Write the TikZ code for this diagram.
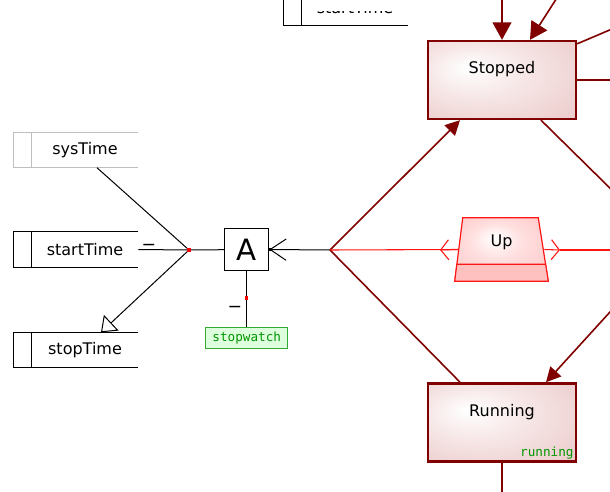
\documentclass[tikz,border=0pt]{standalone}
\usepackage{fontspec}
\setmainfont{DejaVu Sans}
\setmonofont{DejaVu Sans Mono}
\usetikzlibrary{positioning,arrows.meta}

\definecolor{statered}{RGB}{128,0,0}
\definecolor{statepink}{RGB}{232,190,190}
\definecolor{flowred}{RGB}{255,20,20}
\definecolor{uppink}{RGB}{255,192,192}
\definecolor{tagfill}{RGB}{222,255,222}
\definecolor{taggreen}{RGB}{0,150,0}
\definecolor{attrgray}{RGB}{190,190,190}

\pgfdeclareradialshading{statefill}{\pgfpoint{-12bp}{8bp}}{color(0bp)=(white); color(18bp)=(statepink!40!white); color(42bp)=(statepink!85!white); color(60bp)=(statepink)}
\pgfdeclareradialshading{upfill}{\pgfpoint{-4bp}{10bp}}{color(0bp)=(white); color(14bp)=(uppink!50!white); color(40bp)=(uppink)}

\begin{document}
\begin{tikzpicture}[
  x=0.75pt, y=-0.75pt,
  attr/.style={
    minimum width=79.5pt,
    minimum height=26.25pt,
    inner sep=0pt,
    font=\fontsize{12}{14}\selectfont
  },
  op/.style={
    draw,
    line width=0.75pt,
    minimum width=33pt,
    minimum height=31.5pt,
    inner sep=0pt,
    font=\fontsize{22}{24}\selectfont
  },
  tag/.style={
    draw=taggreen!80,
    fill=tagfill,
    text=taggreen,
    line width=0.75pt,
    minimum width=61.5pt,
    minimum height=15.75pt,
    inner sep=0pt,
    font=\ttfamily\fontsize{9.5}{11}\selectfont
  },
  state/.style={
    draw=statered,
    line width=1.8pt,
    shading=statefill,
    minimum width=111pt,
    minimum height=58.5pt,
    label={[yshift=8pt, font=\fontsize{12}{14}\selectfont]center:#1}
  },
  upbox/.style={
    minimum width=69.75pt,
    minimum height=47.25pt,
    inner sep=0pt,
    label={[yshift=5.6pt, font=\fontsize{12}{14}\selectfont]center:#1}
  },
  dot/.style={fill=red, inner sep=0pt, minimum size=2.5pt},
  blackdot/.style={fill=black, inner sep=0pt, minimum size=2.5pt},
  minus/.style={font=\fontsize{13}{14}\selectfont, inner sep=1pt},
  link/.style={draw, line width=0.75pt},
  trans/.style={draw=statered, line width=1.2pt},
  flow/.style={draw=flowred, line width=0.8pt}
]
\useasboundingbox (0,0) rectangle (610,492);
\clip (0,0) rectangle (610,492);

% attributes
\node[attr] (startTime) at (85,249.5) {startTime};
\node[attr, above=48pt of startTime] (sysTime) {sysTime};
\node[attr, below=48.75pt of startTime] (stopTime) {stopTime};
\begin{scope}
  \clip (280,11.5) rectangle (420,30);
  \node[attr] (timeTop) at (355,7.5) {startTime};
\end{scope}

\foreach \n/\col in {timeTop/black, sysTime/attrgray, startTime/black, stopTime/black}
  \draw[\col, line width=0.75pt] (\n.north east) -- ([xshift=-13.5pt]\n.north west) -- ([xshift=-13.5pt]\n.south west) -- (\n.south east)
    (\n.north west) -- (\n.south west);

% operator
\node[dot] (j1) at (189,250) {};
\node[op, right=64.5pt of startTime] (A) {A};
\node[tag, below=42pt of A] (stopwatch) {stopwatch};
\node[blackdot] (Aport) at (A.east) {};
\coordinate (j2) at (330,250);

\draw[link] ([xshift=9pt]sysTime.south) -- (j1);
\draw[link] (startTime.east) -- node[minus, pos=0.22, above=-2pt] (minusStart) {−} (j1);
\draw[link, -{Triangle[length=10.5pt, width=16pt, fill=white]}] (j1) -- ([xshift=12pt]stopTime.north);
\draw[link] (j1) -- (A);
\draw[link, -{Straight Barb[length=12pt, width=16pt]}] (j2) -- (A.east);
\draw[link] (A) -- node[dot, pos=0.48] (dotA) {} node[minus, pos=0.68, left=2pt] (minusA) {−} (stopwatch);

% states
\node[state=Stopped] (Stopped) at (502,80) {};
\node[state=Running, below=196.5pt of Stopped,
      label={[anchor=south east, inner sep=2.5pt, text=taggreen, font=\ttfamily\fontsize{9.5}{11}\selectfont]south east:running}] (Running) {};

% Up as a trapezium with a lower band
\node[upbox=Up] (Up) at (501.5,249.5) {};
\shadedraw[draw=flowred, line width=0.9pt, shading=upfill]
  ([xshift=6pt]Up.north west) -- ([xshift=-7.5pt]Up.north east) -- (Up.south east) -- (Up.south west) -- cycle;
\filldraw[fill=uppink, draw=flowred, line width=0.8pt]
  (Up.south west) -- ([xshift=1.6pt, yshift=12.75pt]Up.south west) -- ([xshift=-2pt, yshift=12.75pt]Up.south east) -- (Up.south east) -- cycle;
\node[upbox=Up] (UpText) at (Up) {};

\coordinate (stopIn1) at (502,-12);
\coordinate (stopIn2) at (562,-10);
\coordinate (stopOut1) at (620,25.6);
\coordinate (stopOut2) at (620,80);
\coordinate (stopOut3) at (620,198);
\coordinate (runIn) at (620,301);
\coordinate (runOut) at (502,500);
\coordinate (upLeft) at (440,250);
\coordinate (upRight) at (560,250);
\coordinate (edgeR) at (620,250);

\draw[trans, -{Triangle[length=11pt, width=11pt]}] (j2) -- ([xshift=-31.5pt]Stopped.south);
\draw[trans] (j2) -- ([xshift=-31.5pt]Running.north);
\draw[trans, -{Triangle[length=13pt, width=14pt]}] (stopIn1) -- (Stopped.north);
\draw[trans, -{Triangle[length=13pt, width=14pt]}] (stopIn2) -- ([xshift=21pt]Stopped.north);
\draw[trans] ([yshift=-3pt]Stopped.north east) -- (stopOut1);
\draw[trans] (Stopped.east) -- (stopOut2);
\draw[trans] ([xshift=29.25pt]Stopped.south) -- (stopOut3);
\draw[trans, -{Triangle[length=11pt, width=11pt]}] (runIn) -- ([xshift=33pt]Running.north);
\draw[trans] (Running.south) -- (runOut);

% flow through Up
\draw[flow] (j2) -- ([xshift=3pt]Up.west);
\draw[flow, -{Straight Barb[length=6pt, width=15pt]}] ([xshift=3pt]Up.west) -- (upLeft);
\draw[flow, -{Straight Barb[length=6pt, width=15pt]}] ([xshift=-3pt]Up.east) -- (upRight);
\draw[flow] (upRight) -- (edgeR);
\end{tikzpicture}
\end{document}
